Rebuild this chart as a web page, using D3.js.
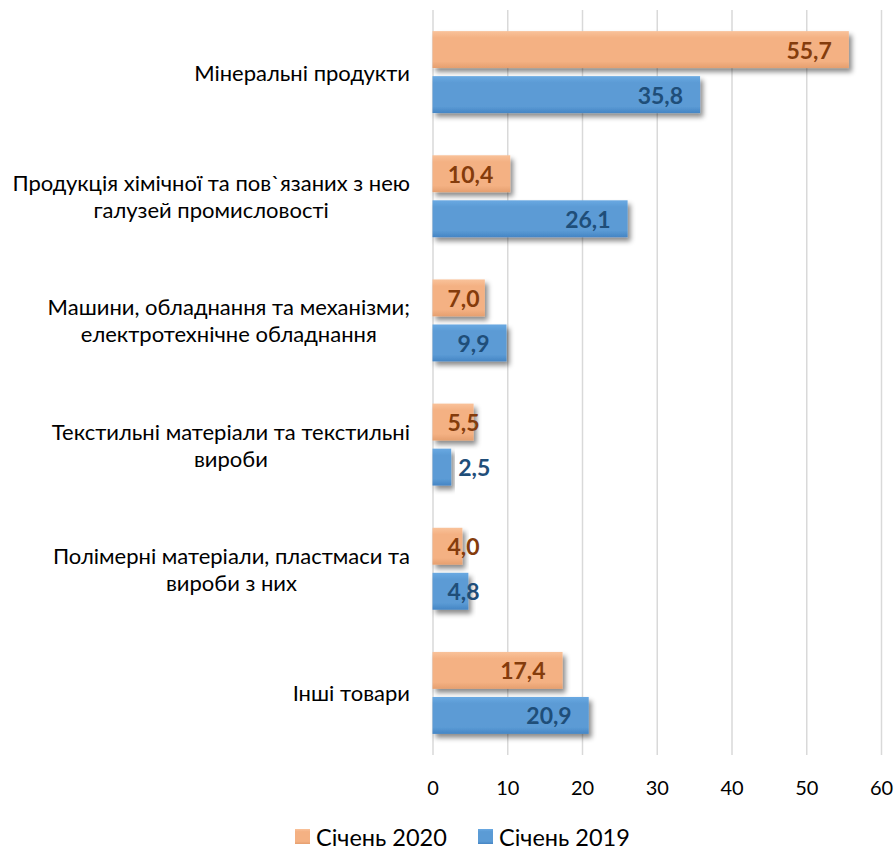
<!DOCTYPE html>
<html>
<head>
<meta charset="utf-8">
<script src="https://cdn.jsdelivr.net/npm/d3@7"></script>
<style>
  html, body { margin: 0; padding: 0; background: #fff; }
  svg { display: block; font-family: Lato, "Noto Sans", sans-serif; }
</style>
</head>
<body>
<svg id="chart" width="895" height="851"></svg>
<script>
// Product groups (each entry is the list of text lines shown on the axis)
const categories = [
  ["Мінеральні продукти"],
  ["Продукція хімічної та пов`язаних з нею", "галузей промисловості"],
  ["Машини, обладнання та механізми;", "електротехнічне обладнання"],
  ["Текстильні матеріали та текстильні", "вироби"],
  ["Полімерні матеріали, пластмаси та", "вироби з них"],
  ["Інші товари"]
];
const seriesNames = ["Січень 2020", "Січень 2019"];
const values2020 = [55.7, 10.4, 7.0, 5.5, 4.0, 17.4];
const values2019 = [35.8, 26.1, 9.9, 2.5, 4.8, 20.9];
const xTicks = [0, 10, 20, 30, 40, 50, 60];

const colors = {
  "Січень 2020": { top: "#f9c29a", mid: "#f4b183", bottom: "#e59f6f", label: "#843c0c" },
  "Січень 2019": { top: "#6aa9e2", mid: "#5b9bd5", bottom: "#4585c4", label: "#1f4e79" }
};

const svg = d3.select("#chart");
const defs = svg.append("defs");

// Vertical shading for the bevelled bars
seriesNames.forEach((s, i) => {
  const g = defs.append("linearGradient")
    .attr("id", "grad" + i).attr("x1", 0).attr("y1", 0).attr("x2", 0).attr("y2", 1);
  g.append("stop").attr("offset", "0%").attr("stop-color", colors[s].top);
  g.append("stop").attr("offset", "18%").attr("stop-color", colors[s].mid);
  g.append("stop").attr("offset", "82%").attr("stop-color", colors[s].mid);
  g.append("stop").attr("offset", "100%").attr("stop-color", colors[s].bottom);
});

// Soft drop shadow below-right of each bar
const f = defs.append("filter").attr("id", "shadow")
  .attr("x", "-10%").attr("y", "-30%").attr("width", "130%").attr("height", "180%");
f.append("feDropShadow").attr("dx", 3).attr("dy", 4).attr("stdDeviation", 2.5)
  .attr("flood-color", "#000").attr("flood-opacity", 0.45);

const rows = categories.map((lines, i) => ({
  lines, key: lines.join(" "),
  vals: [values2020[i], values2019[i]]
}));

const x = d3.scaleLinear().domain([0, 60]).range([432.5, 881]);
const y = d3.scaleBand().domain(rows.map(r => r.key)).range([10, 755])
  .paddingInner(0.34).paddingOuter(0.17);
const ySub = d3.scaleBand().domain(seriesNames).range([0, y.bandwidth()]).paddingInner(0.18);

// Gridlines
const grid = svg.append("g")
  .attr("transform", "translate(0,755)")
  .call(d3.axisBottom(x).tickValues(xTicks).tickSize(-745).tickFormat(""));
grid.select(".domain").remove();
grid.selectAll(".tick line").attr("stroke", "#d9d9d9").attr("stroke-width", 1.5);

// Tick labels
const axis = svg.append("g")
  .attr("transform", "translate(0,755)")
  .call(d3.axisBottom(x).tickValues(xTicks).tickSize(0).tickPadding(26).tickFormat(d3.format("d")));
axis.select(".domain").remove();
axis.selectAll("text").attr("font-size", 20).attr("fill", "#000")
  .attr("font-family", "Lato, 'Noto Sans', sans-serif");

// Bars
const groups = svg.append("g").selectAll("g").data(rows).join("g")
  .attr("transform", d => `translate(0,${y(d.key)})`);

groups.selectAll("rect").data(d => d.vals.map((v, i) => ({ v, s: seriesNames[i], i })))
  .join("rect")
  .attr("x", x(0))
  .attr("y", d => ySub(d.s))
  .attr("width", d => x(d.v) - x(0))
  .attr("height", ySub.bandwidth())
  .attr("fill", d => `url(#grad${d.i})`)
  .attr("filter", "url(#shadow)");

// Value labels: inside the bar end, clamped near the axis; outside when the bar is too short
const fmt = v => d3.format(".1f")(v).replace(".", ",");
groups.selectAll("text.val").data(d => d.vals.map((v, i) => ({ v, s: seriesNames[i], i })))
  .join("text")
  .attr("class", "val")
  .attr("font-size", 23).attr("font-weight", "bold")
  .attr("fill", d => colors[d.s].label)
  .attr("dominant-baseline", "central")
  .attr("y", d => ySub(d.s) + ySub.bandwidth() / 2)
  .text(d => fmt(d.v))
  .each(function (d) {
    const w = this.getComputedTextLength();
    const end = x(d.v);
    let left;
    if (end - x(0) < 22) left = end + 7;
    else left = Math.max(end - 17 - w, x(0) + 15);
    d3.select(this).attr("x", left);
  });

// Category labels: centred lines, block right-aligned next to the axis
const catFont = 22, lineH = 27;
const labels = svg.append("g").selectAll("text").data(rows).join("text")
  .attr("font-size", catFont).attr("fill", "#000").attr("text-anchor", "middle");
labels.each(function (d) {
  const t = d3.select(this);
  const cy = y(d.key) + y.bandwidth() / 2;
  const n = d.lines.length;
  d.lines.forEach((ln, k) => {
    t.append("tspan").attr("dominant-baseline", "central")
      .attr("y", cy + (k - (n - 1) / 2) * lineH).text(ln);
  });
  let maxW = 0;
  t.selectAll("tspan").each(function () { maxW = Math.max(maxW, this.getComputedTextLength()); });
  t.selectAll("tspan").attr("x", 410 - maxW / 2);
});

// Legend
const legend = svg.append("g");
const legItems = [{ s: seriesNames[0], x: 295 }, { s: seriesNames[1], x: 478 }];
legItems.forEach((it, i) => {
  legend.append("rect").attr("x", it.x).attr("y", 829).attr("width", 15).attr("height", 15)
    .attr("fill", `url(#grad${i})`);
  legend.append("text").attr("x", it.x + 21).attr("y", 837).attr("dominant-baseline", "central")
    .attr("font-size", 23.5).attr("fill", "#000").text(it.s);
});
</script>
</body>
</html>
